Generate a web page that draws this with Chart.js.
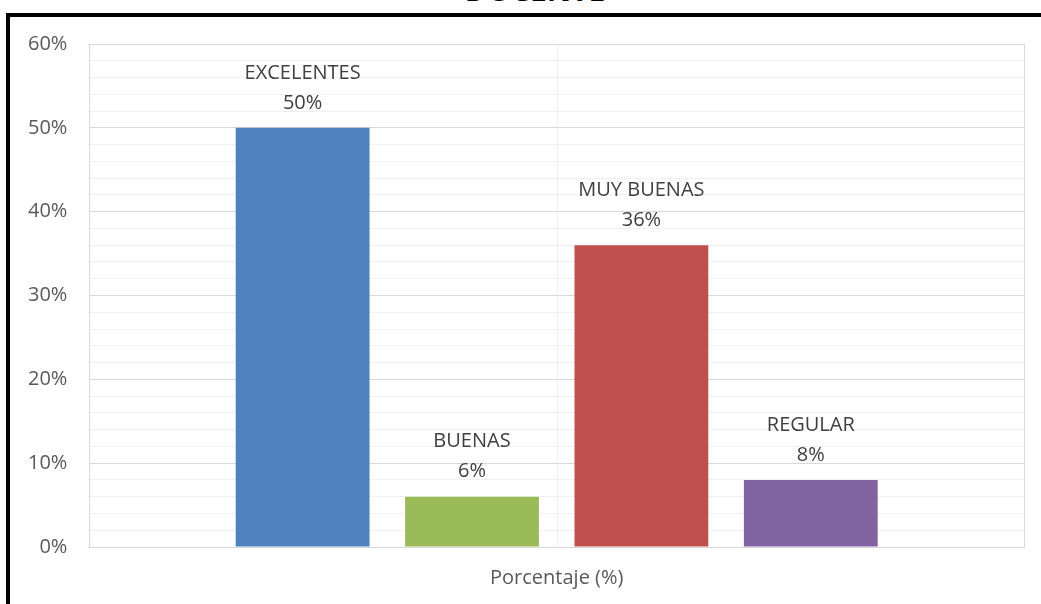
<!DOCTYPE html>
<html>
<head>
<meta charset="utf-8">
<script src="https://cdn.jsdelivr.net/npm/chart.js@4"></script>
<style>
    body { margin: 0; width: 1041px; height: 604px; overflow: hidden; background: #fff; position: relative; }
    #title { position: absolute; left: 0; width: 1070px; top: -25px; text-align: center; font: bold 30px/30px "Open Sans"; color: #000; }
    #box { position: absolute; left: 6px; top: 13px; width: 1100px; height: 700px; border-left: 4px solid #000; border-top: 4px solid #000; }
    #wrap { position: absolute; left: 0; top: 0; width: 1041px; height: 604px; }
</style>
</head>
<body>
<div id="title">DOCENTE</div>
<div id="box"></div>
<div id="wrap"><canvas id="docenteChart"></canvas></div>
<script>
const categories = ['Porcentaje (%)'];
const seriesNames = ['EXCELENTES', 'BUENAS', 'MUY BUENAS', 'REGULAR'];
const seriesValues = [50, 6, 36, 8];
const seriesColors = ['#4F81BD', '#9BBB59', '#C0504D', '#8064A2'];

const datasets = seriesNames.map((name, i) => ({
    label: name,
    data: [seriesValues[i]],
    backgroundColor: seriesColors[i],
    borderWidth: 0,
    categoryPercentage: 0.725,
    barPercentage: 0.79
}));

// two-line label (name + value) above each bar
const barLabels = {
    id: 'barLabels',
    afterDatasetsDraw(chart) {
        const ctx = chart.ctx;
        ctx.save();
        ctx.fillStyle = '#404040';
        ctx.font = '20px "Open Sans"';
        ctx.textAlign = 'center';
        ctx.textBaseline = 'middle';
        chart.data.datasets.forEach((ds, i) => {
            const bar = chart.getDatasetMeta(i).data[0];
            ctx.fillText(ds.label, bar.x, bar.y - 55);
            ctx.fillText(ds.data[0] + '%', bar.x, bar.y - 25);
        });
        ctx.restore();
    }
};

// light vertical line through the middle of the category
const centerLine = {
    id: 'centerLine',
    beforeDatasetsDraw(chart) {
        const x = chart.scales.x.getPixelForValue(0);
        const area = chart.chartArea;
        const ctx = chart.ctx;
        ctx.save();
        ctx.strokeStyle = '#efefef';
        ctx.lineWidth = 1;
        ctx.beginPath();
        ctx.moveTo(Math.round(x) + 0.5, area.top);
        ctx.lineTo(Math.round(x) + 0.5, area.bottom);
        ctx.stroke();
        ctx.restore();
    }
};

const ctx = document.getElementById('docenteChart').getContext('2d');
new Chart(ctx, {
    type: 'bar',
    data: {
        labels: categories,
        datasets: datasets
    },
    options: {
        responsive: true,
        maintainAspectRatio: false,
        animation: false,
        layout: {
            padding: { left: 6, right: 17, top: 44, bottom: -5 }
        },
        plugins: {
            legend: { display: false },
            tooltip: { enabled: false }
        },
        scales: {
            y: {
                min: 0,
                max: 60,
                ticks: {
                    stepSize: 2,
                    autoSkip: false,
                    padding: 22,
                    color: '#595959',
                    font: { family: '"Open Sans"', size: 20 },
                    callback: value => value % 10 === 0 ? value + '%' : ''
                },
                grid: {
                    drawTicks: false,
                    color: c => c.tick && c.tick.value % 10 === 0 ? '#d9d9d9' : '#f0f0f0'
                },
                border: { color: '#d9d9d9' }
            },
            x: {
                ticks: {
                    padding: 19,
                    color: '#595959',
                    font: { family: '"Open Sans"', size: 20 }
                },
                grid: {
                    offset: true,
                    drawTicks: false,
                    color: '#d9d9d9'
                },
                border: { color: '#d9d9d9' }
            }
        }
    },
    plugins: [barLabels, centerLine]
});
</script>
</body>
</html>
